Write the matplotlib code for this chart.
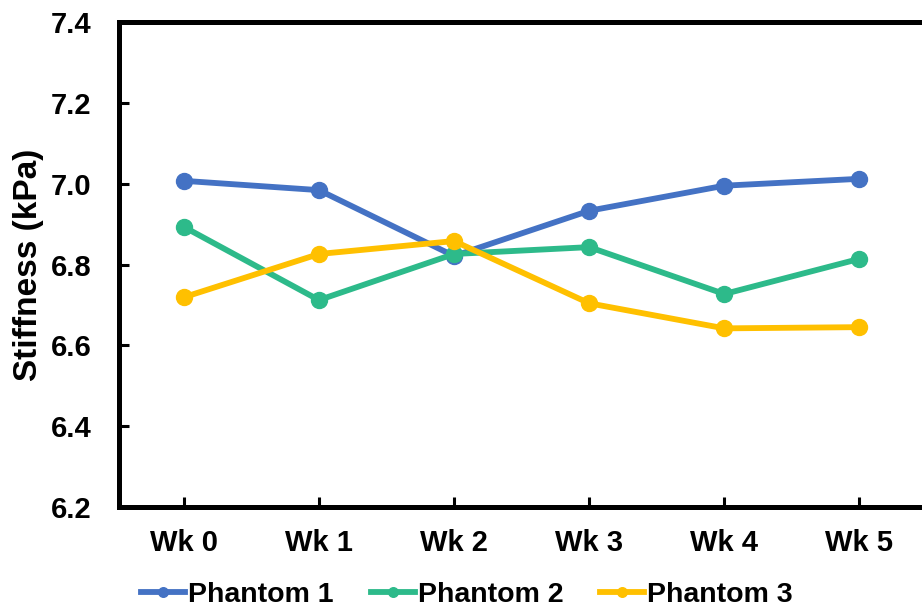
import numpy as np
import matplotlib.pyplot as plt

plt.rcParams['font.family'] = ['Liberation Sans', 'DejaVu Sans']
plt.rcParams['font.weight'] = 'bold'

weeks = ['Wk 0', 'Wk 1', 'Wk 2', 'Wk 3', 'Wk 4', 'Wk 5']
phantom1 = [7.007, 6.984, 6.821, 6.933, 6.995, 7.012]
phantom2 = [6.893, 6.712, 6.826, 6.843, 6.727, 6.814]
phantom3 = [6.719, 6.826, 6.858, 6.704, 6.642, 6.645]

series = [
    ('Phantom 1', phantom1, '#4472C4'),
    ('Phantom 2', phantom2, '#2DBA8A'),
    ('Phantom 3', phantom3, '#FFC000'),
]

fig = plt.figure(figsize=(9.22, 6.16), dpi=100)
ax = fig.add_axes([119 / 922, 1 - 507 / 616, 808 / 922, 485 / 616])

x = np.arange(len(weeks))
for name, vals, col in series:
    ax.plot(x, vals, '-o', color=col, lw=4.2, ms=11.5, label=name)

ax.set_xlim(-0.48, 5.5)
ax.set_ylim(6.2, 7.4)
ax.set_yticks(np.arange(6.2, 7.41, 0.2))
ax.set_yticklabels(['%.1f' % v for v in np.arange(6.2, 7.41, 0.2)])
ax.set_xticks(x)
ax.set_xticklabels(weeks)

for s in ['left', 'top', 'bottom']:
    ax.spines[s].set_linewidth(3.6)
ax.spines['right'].set_visible(False)
ax.tick_params(axis='both', direction='in', length=7, width=2.2, labelsize=21)
ax.tick_params(axis='y', pad=20)
ax.tick_params(axis='x', pad=16)

ax.set_ylabel('Stiffness (kPa)', fontsize=24, fontweight='bold', labelpad=5)

ax.legend(loc='center', bbox_to_anchor=(467 / 922, 21 / 616), bbox_transform=fig.transFigure,
          ncol=3, frameon=False, fontsize=20.5, handlelength=1.55, handletextpad=0.1,
          columnspacing=1.3, markerscale=0.6, borderpad=0)

fig.savefig('out.png', dpi=100)
